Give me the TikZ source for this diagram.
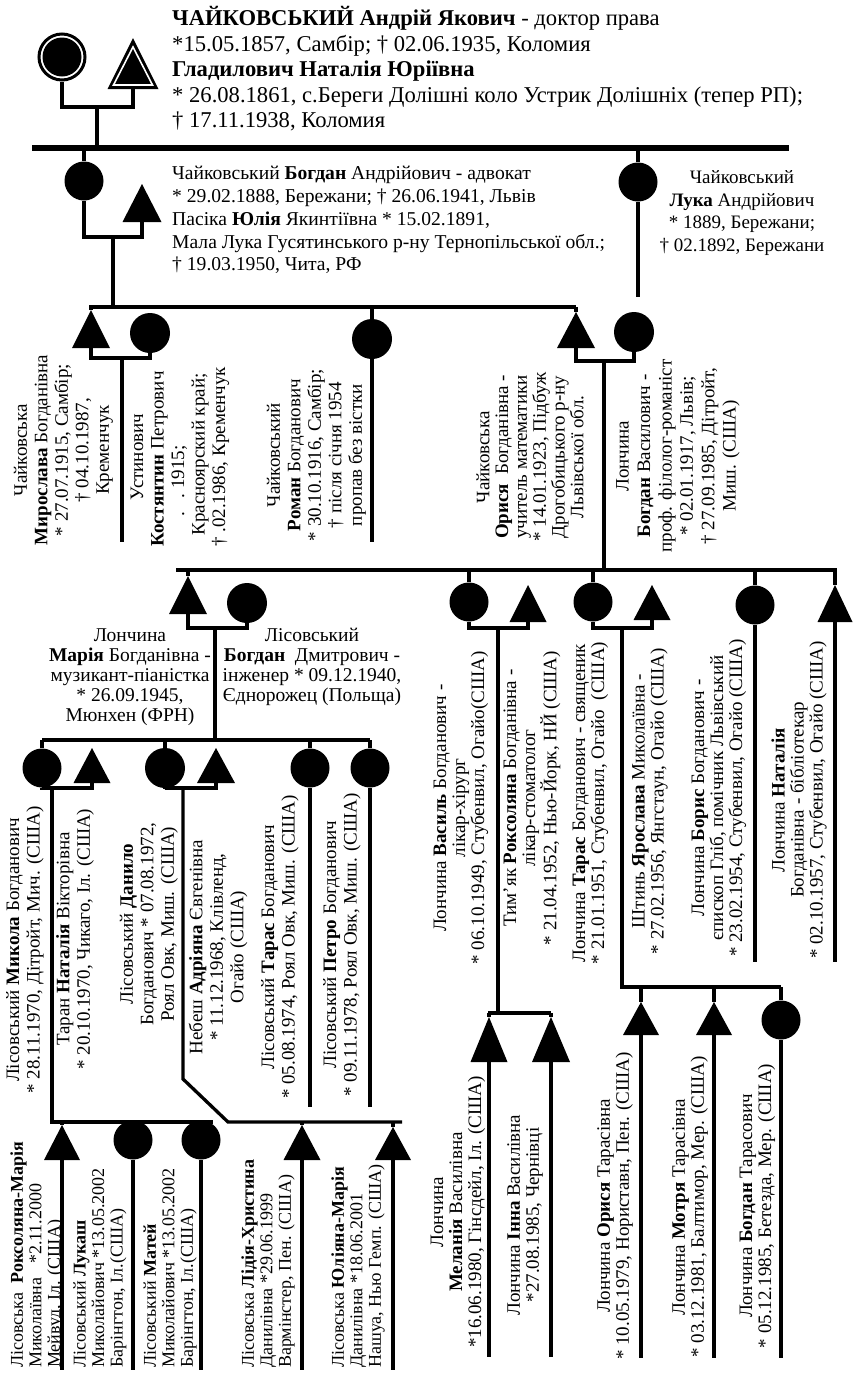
\documentclass[tikz,border=0pt]{standalone}
\usepackage{fontspec}
\setmainfont{Liberation Serif}
\newfontfamily\serfam{Liberation Serif}
\newcommand{\myfA}{\serfam\fontsize{22.6}{25.5}\selectfont}
\newcommand{\myfB}{\serfam\fontsize{19.6}{22.8}\selectfont}
\newcommand{\myfL}{\serfam\fontsize{19}{22.7}\selectfont}
\newcommand{\myfR}{\serfam\fontsize{19}{20.5}\selectfont}
\newcommand{\myfRc}{\serfam\fontsize{19}{18.8}\selectfont}
\newcommand{\myfRw}{\serfam\fontsize{19}{21.4}\selectfont}
\newcommand{\myfM}{\serfam\fontsize{19.5}{20}\selectfont}
\newcommand{\myfG}{\serfam\fontsize{19}{19}\selectfont}
\newcommand{\myfS}{\serfam\fontsize{18}{18.5}\selectfont}
\tikzset{
  man/.style={circle, fill=black, inner sep=0pt, minimum size=39pt},
  trib/.style={inner sep=0pt, outer sep=0pt, draw=none},
  ln/.style={line width=3.3pt},
  lnT/.style={line width=4.6pt},
  rot/.style={rotate=90, align=center, inner sep=0pt, font=\myfR},
  rotl/.style={rotate=90, align=left, inner sep=0pt, font=\myfS, anchor=west},
  hor/.style={align=left, inner sep=0pt, anchor=west},
  ctr/.style={align=center, inner sep=0pt}
}
\newcommand{\mytri}[5]{%
  \node[trib, minimum width=#4pt, minimum height=#5pt] (#1) at (#2,#3) {};
  \fill (#1.south west) -- (#1.south east) -- (#1.north) -- cycle;}
\begin{document}
\begin{tikzpicture}[x=1pt,y=-1pt]
\useasboundingbox (0,0) rectangle (855,1374);
\fill[white] (0,0) rectangle (855,1374);

% ---------- generation 1
\node[circle, draw=black, line width=3pt, fill=white, minimum size=46pt, inner sep=0pt] (andr) at (62,57) {};
\fill (andr.center) circle (19.5pt);
\mytri{nat}{133}{63.5}{51}{51}
\draw[white, line width=1.6pt] (133,47) -- (113.5,85) -- (152.5,85) -- cycle;
\draw[lnT] (andr.south) -- (62,107) -- (133,107) -- (nat.south);
\draw[lnT] (97,107) -- (97,148);
\draw[line width=5.5pt] (32,148) -- (789,148);
\node[hor, font=\myfA] (t1) at (172,69) {\textbf{ЧАЙКОВСЬКИЙ Андрій Якович} - доктор права\\
*15.05.1857, Самбір; † 02.06.1935, Коломия\\
\textbf{Гладилович Наталія Юріївна}\\
* 26.08.1861, с.Береги Долішні коло Устрик Долішніх (тепер РП);\\
† 17.11.1938, Коломия};

% ---------- generation 2
\node[man] (bog) at (84,181) {};
\mytri{yul}{142}{203}{39}{38}
\draw[lnT] (84,148) -- (bog.north);
\draw[lnT] (bog.south) -- (84,237) -- (142,237) -- (yul.south);
\draw[lnT] (113,237) -- (113,307);
\node[hor, font=\myfB] (t2) at (172,220) {Чайковський \textbf{Богдан} Андрійович - адвокат\\
* 29.02.1888, Бережани; † 26.06.1941, Львів\\
Пасіка \textbf{Юлія} Якинтіївна * 15.02.1891,\\
Мала Лука Гусятинського р-ну Тернопільської обл.;\\
† 19.03.1950, Чита, РФ};
\node[man] (luka) at (638,182) {};
\draw[lnT] (638,148) -- (luka.north);
\draw[lnT] (luka.south) -- (638,297);
\node[ctr, font=\myfL] (t3) at (742,213) {Чайковський\\\textbf{Лука} Андрійович\\* 1889, Бережани;\\† 02.1892, Бережани};

% ---------- generation 3
\draw[ln] (89,307) -- (576,307);
\mytri{myr}{91}{329}{38}{38}
\node[man, minimum size=40pt] (kost) at (150,333) {};
\draw[ln] (91,307) -- (myr.north);
\draw[ln] (myr.south) -- (91,358) -- (150,358) -- (kost.south);
\draw[ln] (122,358) -- (122,542);
\node[man, minimum size=40pt] (rom) at (372,339) {};
\draw[ln] (372,307) -- (rom.north);
\draw[ln] (rom.south) -- (372,542);
\mytri{ory}{576}{330}{38}{36}
\node[man, minimum size=40pt] (bogl) at (634,332) {};
\draw[ln] (576,307) -- (ory.north);
\draw[ln] (ory.south) -- (576,361) -- (634,361) -- (bogl.south);
\draw[ln] (604,361) -- (604,570);

\node[rot] (tmyr) at (63.5,450) {Чайковська\\\textbf{Мирослава} Богданівна\\* 27.07.1915, Самбір;\\† 04.10.1987,\\Кременчук};
\node[rot, anchor=west] (tkost) at (180,547) {\begin{tabular}{@{}l@{}}\multicolumn{1}{@{}c@{}}{Устинович}\\\textbf{Костянтин} Петрович\\*\hspace{1.6em}.\hspace{0.7em}.\ 1915;\\\hspace{0.6em}Красноярский край;\\† .02.1986, Кременчук\end{tabular}};
\node[rot] (trom) at (316.5,455) {Чайковський\\\textbf{Роман} Богданович\\* 30.10.1916, Самбір;\\† після січня 1954\\пропав без вістки};
\node[rot, font=\myfRc] (tory) at (530,457) {Чайковська\\\textbf{Орися}\ \ Богданівна -\\учитель математики\\* 14.01.1923, Підбуж\\Дрогобицького р-ну\\Львівської обл.};
\node[rot, font=\myfRw] (tbogl) at (678,456) {Лончина\\\textbf{Богдан} Василович -\\проф. філолог-романіст\\* 02.01.1917, Львів;\\† 27.09.1985, Дітройт,\\Миш. (США)};

% ---------- generation 4
\draw[ln] (176,570) -- (837,570);
\mytri{mar}{188}{595}{38}{38}
\node[man, minimum size=40pt] (bogls) at (247,603) {};
\draw[ln] (188,570) -- (mar.north);
\draw[ln] (mar.south) -- (188,628) -- (247,628) -- (bogls.south);
\draw[ln] (215,628) -- (215,740);
\node[ctr, font=\myfM] (tmar) at (130,677) {Лончина\\\textbf{Марія} Богданівна -\\музикант-піаністка\\* 26.09.1945,\\Мюнхен (ФРН)};
\node[ctr, font=\myfM] (tbogls) at (312,667) {Лісовський\\\textbf{Богдан}\ \ Дмитрович -\\інженер * 09.12.1940,\\Єднорожец (Польща)};

\node[man] (vas) at (469,602) {};
\mytri{rok}{528}{603.5}{37}{37}
\draw[ln] (469,570) -- (vas.north);
\draw[ln] (vas.south) -- (469,628) -- (528,628) -- (rok.south);
\draw[ln] (498,628) -- (498,1013);
\draw[ln] (488,1013) -- (551,1013);

\node[man] (tar) at (593,602) {};
\mytri{yar}{652}{602.5}{37}{35}
\draw[ln] (593,570) -- (tar.north);
\draw[ln] (tar.south) -- (593,628) -- (652,628) -- (yar.south);
\draw[ln] (622,628) -- (622,987) -- (781,987);

\node[man] (bor) at (755,605) {};
\draw[ln] (755,570) -- (bor.north);
\draw[ln] (bor.south) -- (755,962);
\mytri{natl}{835}{603.5}{35}{37}
\draw[ln] (835,570) -- (natl.north);
\draw[ln] (natl.south) -- (835,962);

\node[rot, font=\myfG] (tvas) at (461,808) {Лончина \textbf{Василь} Богданович -\\лікар-хірург\\* 06.10.1949, Стубенвил, Огайо(США)};
\node[rot, font=\myfG] (trok) at (532,798) {Тим’як \textbf{Роксоляна} Богданівна -\\лікар-стоматолог\\* 21.04.1952, Нью-Йорк, НЙ (США)};
\node[rot, font=\myfG] (ttar) at (590.5,803) {Лончина \textbf{Тарас} Богданович - священик\\* 21.01.1951, Стубенвил, Огайо\ \ (США)};
\node[rot, font=\myfG] (tyar) at (650,801) {Штинь \textbf{Ярослава} Миколаївна -\\* 27.02.1956, Янгстаун, Огайо (США)};
\node[rot, font=\myfG] (tbor) at (719,798) {Лончина \textbf{Борис} Богданович -\\єпископ Гліб, помічник Львівський\\* 23.02.1954, Стубенвил, Огайо (США)};
\node[rot, font=\myfG] (tnatl) at (799,800) {Лончина \textbf{Наталія}\\Богданівна - бібліотекар\\* 02.10.1957, Стубенвил, Огайо (США)};

% ---------- generation 5 (left)
\draw[ln] (42,740) -- (370,740);
\node[man] (myk) at (42,768) {};
\mytri{natt}{92}{765.5}{37}{35}
\draw[ln] (42,740) -- (myk.north);
\draw[ln] (myk.south) -- (42,788) -- (92,788) -- (natt.south);
\draw[ln] (52,788) -- (52,1122) -- (213,1122);
\node[man, minimum size=40pt] (dan) at (165,768) {};
\mytri{adr}{216}{765.5}{38}{35}
\draw[ln] (165,740) -- (dan.north);
\draw[ln] (dan.south) -- (165,788) -- (216,788) -- (adr.south);
\draw[ln] (183,788) -- (183,1079) -- (228,1122) -- (402,1122);
\node[man] (tarl) at (310,768) {};
\draw[ln] (310,740) -- (tarl.north);
\draw[ln] (tarl.south) -- (310,1107);
\node[man] (pet) at (370,768) {};
\draw[ln] (370,740) -- (pet.north);
\draw[ln] (pet.south) -- (370,1107);

\node[rot, font=\myfR] (tmyk) at (25,950) {Лісовський \textbf{Микола} Богданович\\* 28.11.1970, Дітройт, Мич. (США)};
\node[rot, font=\myfR] (tnatt) at (75,939) {Таран \textbf{Наталія} Вікторівна\\* 20.10.1970, Чикаго, Іл. (США)};
\node[rot, font=\myfR] (tdan) at (149,924) {Лісовський \textbf{Данило}\\Богданович * 07.08.1972,\\Роял Овк, Миш. (США)};
\node[rot, font=\myfR] (tadr) at (218,947) {Небеш \textbf{Адріяна} Євгенівна\\* 11.12.1968, Клівленд,\\Огайо (США)};
\node[rot, font=\myfR] (ttarl) at (280,947) {Лісовський \textbf{Тарас} Богданович\\* 05.08.1974, Роял Овк, Миш. (США)};
\node[rot, font=\myfR] (tpet) at (342,945) {Лісовський \textbf{Петро} Богданович\\* 09.11.1978, Роял Овк, Миш. (США)};

% ---------- generation 6 (left)
\mytri{roks}{62}{1142.5}{36}{35}
\draw[ln] (62,1122) -- (roks.north);
\draw[ln] (roks.south) -- (62,1370);
\node[man] (luk) at (133,1140) {};
\draw[ln] (luk.south) -- (133,1370);
\node[man] (mat) at (201,1140) {};
\draw[ln] (mat.south) -- (201,1370);
\mytri{lid}{302}{1142.5}{37}{35}
\draw[ln] (302,1122) -- (lid.north);
\draw[ln] (lid.south) -- (302,1370);
\mytri{yuli}{393}{1143.5}{36}{33}
\draw[ln] (393,1122) -- (yuli.north);
\draw[ln] (yuli.south) -- (393,1370);

\node[rotl] (troks) at (37,1368) {Лісовська\ \ \textbf{Роксоляна-Марія}\\Миколаївна\ \ \ *2.11.2000\\Мейвуд, Іл. (США)};
\node[rotl] (tluk) at (100,1368) {Лісовський \textbf{Лукаш}\\Миколайович *13.05.2002\\Барінгтон, Іл.(США)};
\node[rotl] (tmat) at (170,1368) {Лісовський \textbf{Матей}\\Миколайович *13.05.2002\\Барінгтон, Іл.(США)};
\node[rotl] (tlid) at (268,1368) {Лісовська \textbf{Лідія-Христина}\\Данилівна *29.06.1999\\Вармінстер, Пен. (США)};
\node[rotl] (tyuli) at (358,1368) {Лісовська \textbf{Юліяна-Марія}\\Данилівна *18.06.2001\\Нашуа, Нью Гемп. (США)};

% ---------- generation 5/6 (right)
\mytri{mel}{489}{1039.5}{37}{45}
\draw[ln] (489,1013) -- (mel.north);
\draw[ln] (mel.south) -- (489,1357);
\mytri{inn}{551}{1039.5}{38}{45}
\draw[ln] (551,1013) -- (inn.north);
\draw[ln] (inn.south) -- (551,1357);
\mytri{oryl}{641}{1018.5}{36}{33}
\draw[ln] (641,987) -- (oryl.north);
\draw[ln] (oryl.south) -- (641,1358);
\mytri{mot}{714}{1018.5}{36}{33}
\draw[ln] (714,987) -- (mot.north);
\draw[ln] (mot.south) -- (714,1358);
\node[man] (bogt) at (781,1020) {};
\draw[ln] (781,987) -- (bogt.north);
\draw[ln] (bogt.south) -- (781,1358);

\node[rot, font=\myfG] (tmel) at (458,1212) {Лончина\\\textbf{Меланія} Василівна\\*16.06.1980, Гінсдейл, Іл. (США)};
\node[rot, font=\myfG] (tinn) at (525,1215) {Лончина \textbf{Інна} Василівна\\*27.08.1985, Чернівці};
\node[rot, font=\myfG] (toryl) at (615,1206) {Лончина \textbf{Орися} Тарасівна\\* 10.05.1979, Нориставн, Пен. (США)};
\node[rot, font=\myfG] (tmot) at (690,1207) {Лончина \textbf{Мотря} Тарасівна\\* 03.12.1981, Балтимор, Мер. (США)};
\node[rot, font=\myfG] (tbogt) at (757.5,1206) {Лончина \textbf{Богдан} Тарасович\\* 05.12.1985, Бетезда, Мер. (США)};
\end{tikzpicture}
\end{document}
